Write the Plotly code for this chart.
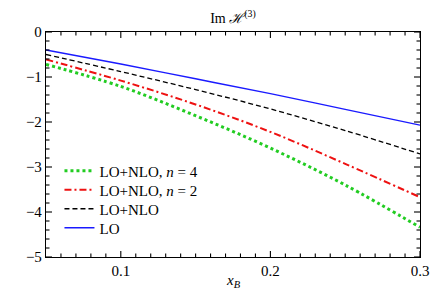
import plotly.graph_objects as go

x_b = [0.05, 0.10, 0.15, 0.20, 0.25, 0.30]
lo = [-0.40, -0.71, -1.04, -1.37, -1.72, -2.07]
lo_nlo = [-0.50, -0.88, -1.28, -1.71, -2.19, -2.71]
lo_nlo_n2 = [-0.61, -1.08, -1.61, -2.22, -2.93, -3.67]
lo_nlo_n4 = [-0.72, -1.21, -1.86, -2.58, -3.40, -4.34]

names = ["LO", "LO+NLO", "LO+NLO, <i>n</i> = 2", "LO+NLO, <i>n</i> = 4"]

x_range = [0.05, 0.3]
y_range = [-5, 0]
x_major = [0.1, 0.2, 0.3]
y_major = [0, -1, -2, -3, -4, -5]
x_minor = [v for v in [round(0.05 + 0.01 * i, 2) for i in range(1, 25)] if v not in x_major]
y_minor = [v for v in [round(-0.2 * i, 1) for i in range(1, 25)] if v not in y_major]

FONT = "Liberation Serif"
W, H = 442, 290
M = dict(l=46, r=22, t=32, b=33)
plot_w = W - M["l"] - M["r"]
plot_h = H - M["t"] - M["b"]
# pixel tick lengths converted to data units through the axis scale
dx_per_px = (x_range[1] - x_range[0]) / plot_w
dy_per_px = (y_range[1] - y_range[0]) / plot_h

series = [
    (lo, names[0], dict(color="#1a1aff", width=1.4, shape="spline"), "legend4"),
    (lo_nlo, names[1], dict(color="black", width=1.3, dash="5px,3px", shape="spline"), "legend3"),
    (lo_nlo_n2, names[2], dict(color="#ee1111", width=2, dash="7px,3px,2px,3px", shape="spline"), "legend2"),
    (lo_nlo_n4, names[3], dict(color="#22cc22", width=3, dash="3px,3px", shape="spline"), "legend"),
]

fig = go.Figure()
for ys, nm, ln, lg in series:
    fig.add_trace(go.Scatter(x=x_b, y=ys, mode="lines", name=nm, line=ln, legend=lg))

# inward tick marks on all four sides, drawn as short line segments
tx, ty = [], []
for vals, ln in ((x_major, 6), (x_minor, 3.5)):
    for v in vals:
        tx += [v, v, None, v, v, None]
        ty += [y_range[0], y_range[0] + ln * dy_per_px, None,
               y_range[1], y_range[1] - ln * dy_per_px, None]
for vals, ln in ((y_major, 6), (y_minor, 3.5)):
    for v in vals:
        tx += [x_range[0], x_range[0] + ln * dx_per_px, None,
               x_range[1], x_range[1] - ln * dx_per_px, None]
        ty += [v, v, None, v, v, None]
fig.add_trace(go.Scatter(x=tx, y=ty, mode="lines", showlegend=False, hoverinfo="skip",
                         connectgaps=False, line=dict(color="black", width=1.1)))

row_y = [(257 - 171) / 225, (257 - 190) / 225, (257 - 209) / 225, (257 - 228) / 225]
leg_common = dict(x=0.036, xanchor="left", yanchor="middle", bgcolor="rgba(0,0,0,0)",
                  font=dict(family=FONT, size=15, color="black"))

fig.update_layout(
    width=W, height=H,
    margin=M,
    plot_bgcolor="white", paper_bgcolor="white",
    font=dict(family=FONT, size=15, color="black"),
    title=dict(text="Im <i>ℋ</i><sup>(3)</sup>", x=0.527, xanchor="center", y=0.938, yanchor="middle",
               font=dict(family=FONT, size=14, color="black")),
    legend=dict(y=row_y[0], **leg_common),
    legend2=dict(y=row_y[1], **leg_common),
    legend3=dict(y=row_y[2], **leg_common),
    legend4=dict(y=row_y[3], **leg_common),
    showlegend=True,
    annotations=[dict(text="<i>x</i><sub><i>B</i></sub>", xref="paper", yref="paper",
                      x=0.5, y=-0.105, xanchor="center", yanchor="middle", showarrow=False,
                      font=dict(family=FONT, size=15, color="black"))],
)
fig.update_xaxes(range=x_range, tickvals=x_major, showline=True, linecolor="black",
                 linewidth=1.3, mirror=True, ticks="", showgrid=False, zeroline=False,
                 automargin=False, tickfont=dict(family=FONT, size=15, color="black"))
fig.update_yaxes(range=y_range, tickvals=y_major, showline=True, linecolor="black",
                 linewidth=1.3, mirror=True, ticks="", showgrid=False, zeroline=False,
                 automargin=False, tickfont=dict(family=FONT, size=15, color="black"))

fig.write_html("out.html", config={"displayModeBar": False},
               post_script="document.body.style.margin='0';document.body.style.overflow='hidden';")
